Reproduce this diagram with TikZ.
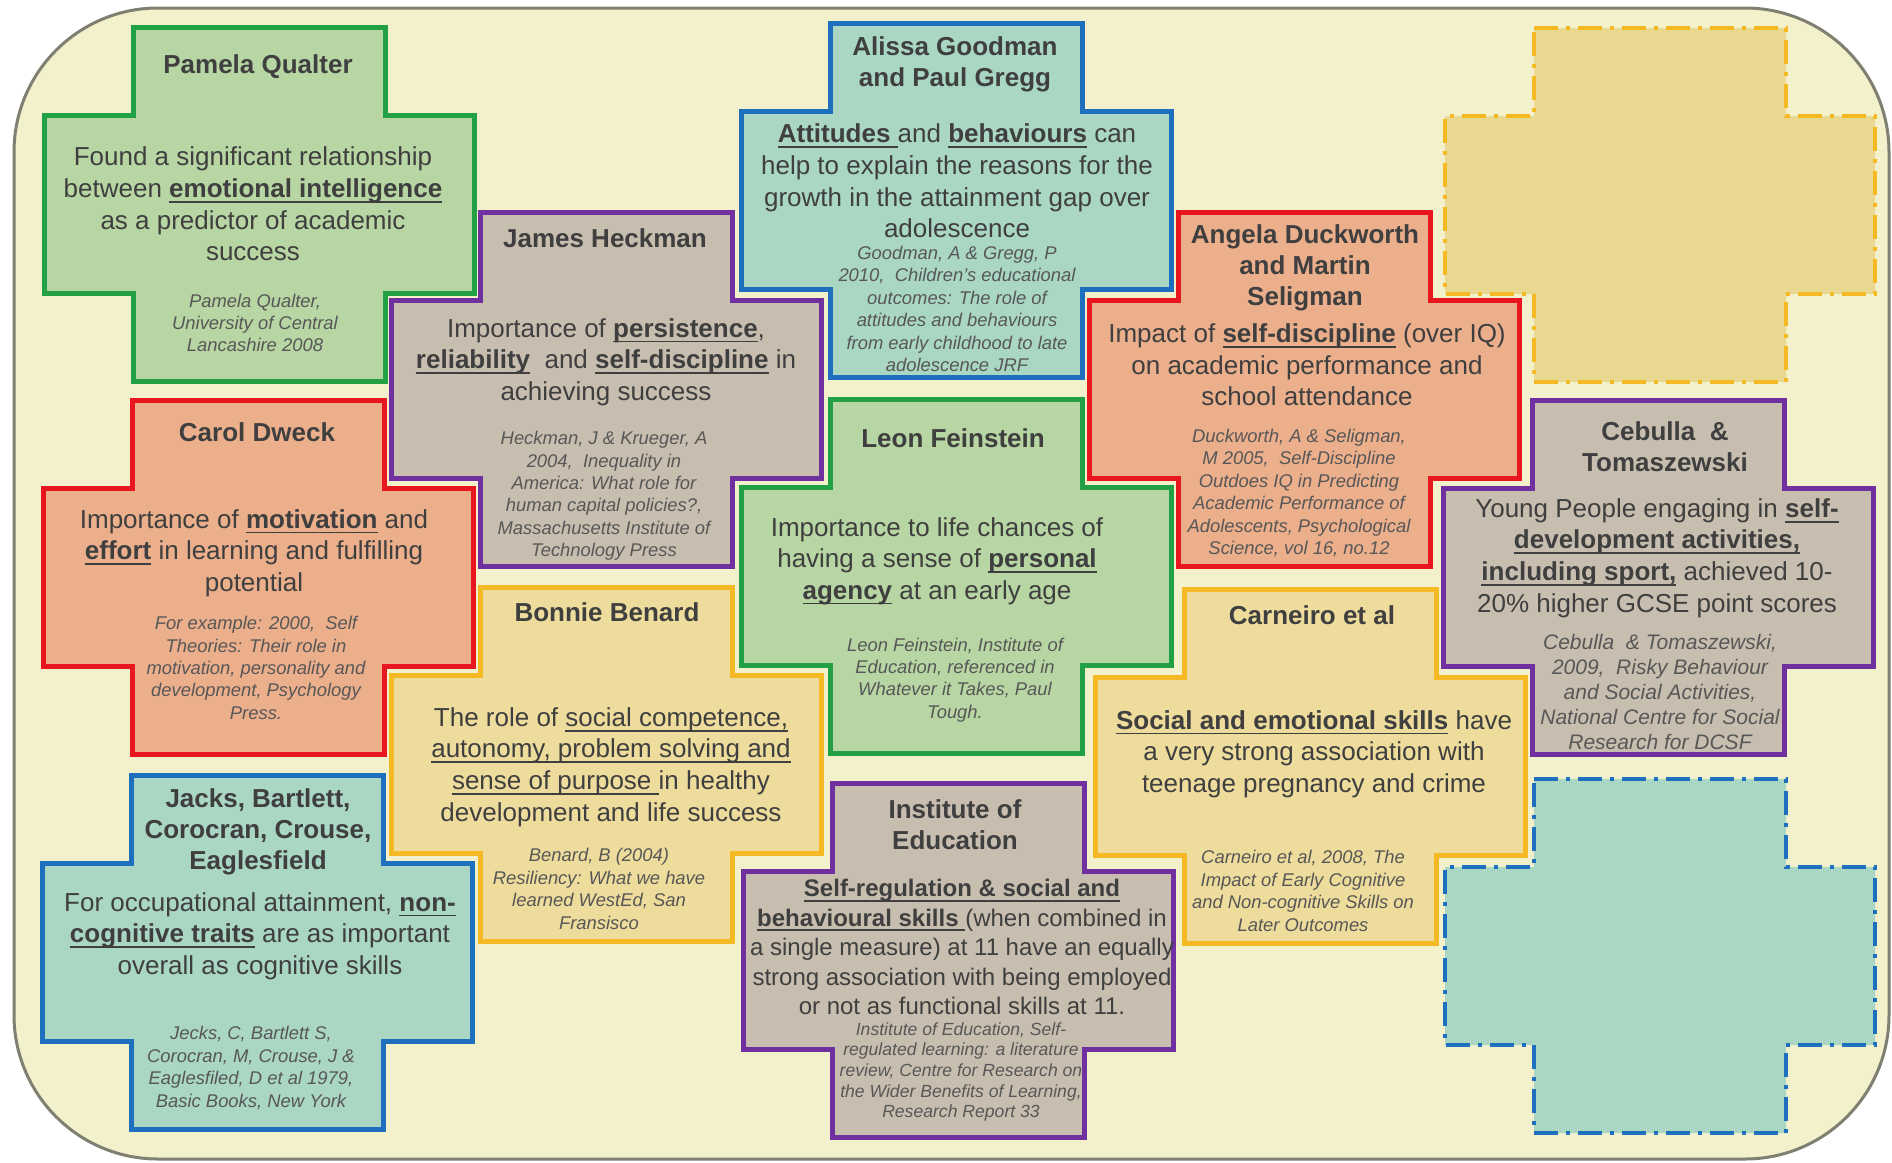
\documentclass[tikz,border=0pt]{standalone}
\usepackage{fontspec}
\setmainfont{Liberation Sans}
\usepackage{tikz}
\newcommand\uln[1]{\setbox0\hbox{#1}\rlap{\rule[-2.6pt]{\wd0}{0.9pt}}\box0\relax}
\newcommand\kw[1]{\uln{\textbf{#1}}}
\definecolor{bgfill}{HTML}{F3F0CC}
\definecolor{bgline}{HTML}{7F7F72}
\definecolor{grnline}{HTML}{22A046}
\definecolor{grnfill}{HTML}{B7D6A3}
\definecolor{purline}{HTML}{7030A0}
\definecolor{purfill}{HTML}{C8BEAF}
\definecolor{bluline}{HTML}{1E70BE}
\definecolor{blufill}{HTML}{AAD6C4}
\definecolor{redline}{HTML}{E8161E}
\definecolor{redfill}{HTML}{EBAF8C}
\definecolor{ylwline}{HTML}{F4B923}
\definecolor{ylwfill}{HTML}{EEDC9C}
\definecolor{dylfill}{HTML}{E8D890}
\definecolor{ink}{HTML}{3F3F3F}
\definecolor{citegrey}{HTML}{575757}

\begin{document}
\begin{tikzpicture}[x=0.5pt, y=-0.5pt,
        pics/crux/.style={code={\path[pic actions] (-126,-177) -- (126,-177) -- (126,-89) -- (215,-89)
            -- (215,89) -- (126,89) -- (126,177) -- (-126,177) -- (-126,89) -- (-215,89) -- (-215,-89)
            -- (-126,-89) -- cycle;}},
        gx/.style={draw=grnline, fill=grnfill, line width=2.5pt},
        px/.style={draw=purline, fill=purfill, line width=2.5pt},
        bx/.style={draw=bluline, fill=blufill, line width=2.5pt},
        rx/.style={draw=redline, fill=redfill, line width=2.5pt},
        yx/.style={draw=ylwline, fill=ylwfill, line width=2.5pt},
        dy/.style={draw=ylwline, fill=dylfill, line width=2pt, dash pattern=on 12pt off 4pt on 2pt off 4pt},
        db/.style={draw=bluline, fill=blufill, line width=2pt, dash pattern=on 12pt off 4pt on 2pt off 4pt},
        hd/.style={align=center, inner sep=0, text=ink, font=\fontsize{13}{15.6}\selectfont\bfseries},
        bd/.style={align=center, inner sep=0, text=ink, font=\fontsize{13}{15.8}\selectfont},
        ct/.style={align=center, inner sep=0, text=citegrey, font=\fontsize{9.2}{11.2}\selectfont\itshape}]
    \useasboundingbox (0,0) rectangle (1892,1163);
    \draw[bgline, fill=bgfill, line width=1.5pt, rounded corners=72pt] (14,8) rectangle (1889,1159);

    \pic[gx] at (259,204) {crux};
    \node(pq)[hd] at (258,67) {Pamela Qualter};
    \node(pqt)[bd] at (253,204) {Found a significant relationship\\between \kw{emotional intelligence}\\as a predictor of academic\\success};
    \node(pqr)[ct] at (255,323) {Pamela Qualter,\\University of Central\\Lancashire 2008};

    \pic[px] at (606,389) {crux};
    \node(jh)[hd] at (605,238) {James Heckman};
    \node(jht)[bd] at (606,362) {Importance of \kw{persistence},\\\kw{reliability}\ \ and \kw{self-discipline} in\\achieving success};
    \node(jhr)[ct] at (604,496) {Heckman, J \& Krueger, A\\2004,\ \ Inequality in\\America: What role for\\human capital policies?,\\Massachusetts Institute of\\Technology Press};

    \pic[bx] at (956,200) {crux};
    \node(ag)[hd] at (955,64) {Alissa Goodman\\and Paul Gregg};
    \node(agt)[bd] at (957,181) {\kw{Attitudes\ }and \kw{behaviours} can\\help to explain the reasons for the\\growth in the attainment gap over\\adolescence};
    \node(agr)[ct] at (957,309) {Goodman, A \& Gregg, P\\2010,\ \ Children's educational\\outcomes: The role of\\attitudes and behaviours\\from early childhood to late\\adolescence JRF};

    \pic[rx] at (1304,389) {crux};
    \node(ad)[hd] at (1305,268) {Angela Duckworth\\and Martin\\Seligman};
    \node(adt)[bd] at (1307,365) {Impact of \kw{self-discipline} (over IQ)\\on academic performance and\\school attendance};
    \node(adr)[ct] at (1299,493) {Duckworth, A \& Seligman,\\M 2005,\ \ Self-Discipline\\Outdoes IQ in Predicting\\Academic Performance of\\Adolescents, Psychological\\Science, vol 16, no.12};

    \pic[dy] at (1660,205) {crux};

    \pic[px] at (1658,577) {crux};
    \node(cb)[hd] at (1665,447) {Cebulla\ \ \&\\Tomaszewski};
    \node(cbt)[bd] at (1657,558) {Young People engaging in \kw{self-}\\\kw{development activities,}\\\kw{including sport,} achieved 10-\\20\% higher GCSE point scores};
    \node(cbr)[ct, font=\fontsize{10.5}{12.5}\selectfont\itshape] at (1660,692) {Cebulla\ \ \& Tomaszewski,\\2009,\ \ Risky Behaviour\\and Social Activities,\\National Centre for Social\\Research for DCSF};

    \pic[rx] at (258,577) {crux};
    \node(cd)[hd] at (257,432) {Carol Dweck};
    \node(cdt)[bd] at (254,553) {Importance of \kw{motivation} and\\\kw{effort} in learning and fulfilling\\potential};
    \node(cdr)[ct] at (256,668) {For example: 2000,\ \ Self\\Theories: Their role in\\motivation, personality and\\development, Psychology\\Press.};

    \pic[gx] at (956,576) {crux};
    \node(lf)[hd] at (953,438) {Leon Feinstein};
    \node(lft)[bd] at (937,561) {Importance to life chances of\\having a sense of \kw{personal}\\\kw{agency} at an early age};
    \node(lfr)[ct] at (955,680) {Leon Feinstein, Institute of\\Education, referenced in\\Whatever it Takes, Paul\\Tough.};

    \pic[yx] at (606,764) {crux};
    \node(bb)[hd] at (607,612) {Bonnie Benard};
    \node(bbt)[bd] at (611,767) {The role of \uln{social competence,}\\\uln{autonomy, problem solving and}\\\uln{sense of purpose\ }in healthy\\development and life success};
    \node(bbr)[ct] at (599,889) {Benard, B (2004)\\Resiliency: What we have\\learned WestEd, San\\Fransisco};

    \pic[yx] at (1310,766) {crux};
    \node(ca)[hd] at (1312,615) {Carneiro et al};
    \node(cat)[bd] at (1314,754) {\kw{Social and emotional skills} have\\a very strong association with\\teenage pregnancy and crime};
    \node(car)[ct] at (1303,891) {Carneiro et al, 2008, The\\Impact of Early Cognitive\\and Non-cognitive Skills on\\Later Outcomes};

    \pic[bx] at (257,952) {crux};
    \node(jb)[hd] at (258,832) {Jacks, Bartlett,\\Corocran, Crouse,\\Eaglesfield};
    \node(jbt)[bd] at (260,936) {For occupational attainment, \kw{non-}\\\kw{cognitive traits} are as important\\overall as cognitive skills};
    \node(jbr)[ct] at (251,1068) {Jecks, C, Bartlett S,\\Corocran, M, Crouse, J \&\\Eaglesfiled, D et al 1979,\\Basic Books, New York};

    \pic[px] at (958,960) {crux};
    \node(ie)[hd] at (955,825) {Institute of\\Education};
    \node(iet)[bd, font=\fontsize{12}{14.75}\selectfont] at (962,947) {\kw{Self-regulation \& social and}\\\kw{behavioural skills\ }(when combined in\\a single measure) at 11 have an equally\\strong association with being employed\\or not as functional skills at 11.};
    \node(ier)[ct, font=\fontsize{8.8}{10.3}\selectfont\itshape] at (961,1072) {Institute of Education, Self-\\regulated learning: a literature\\review, Centre for Research on\\the Wider Benefits of Learning,\\Research Report 33};

    \pic[db] at (1660,956) {crux};

\end{tikzpicture}
\end{document}
